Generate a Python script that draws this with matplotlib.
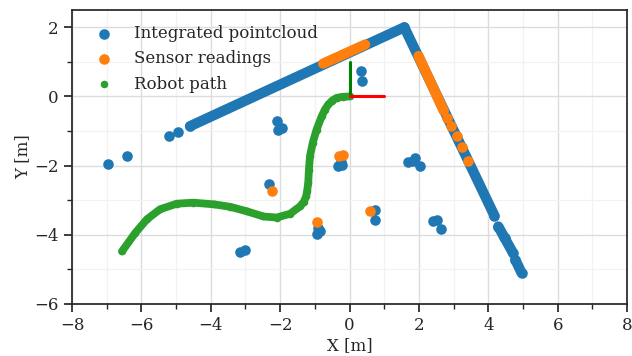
import numpy as np
import matplotlib
matplotlib.use("Agg")
import matplotlib.pyplot as plt
import seaborn as sns
from matplotlib.ticker import MultipleLocator

sns.set_style("ticks")
plt.rcParams['font.family'] = ['DejaVu Serif']
plt.rcParams['font.size'] = 12

# ---------------- data ----------------
# integrated pointcloud: wall segments (dense scans) and isolated points
wall_a_x = [-4.60, 1.58, 4.18]
wall_a_y = [-0.86, 2.00, -3.45]
wall_b_x = [4.29, 4.45]
wall_b_y = [-3.76, -4.05]
wall_c_x = [4.48, 4.71]
wall_c_y = [-4.10, -4.52]
wall_d_x = [4.78, 4.96]
wall_d_y = [-4.72, -5.10]

cloud_x = [-6.95, -6.42, -5.19, -4.93, 0.32, 0.37, -2.10, -1.95, -2.05,
           -0.22, -0.32, -0.25, 1.69, 1.89, 2.03, 1.84, -2.31, -0.90, -0.95,
           -0.85, 0.73, 0.73, -3.16, -3.01, 2.42, 2.51, 2.64]
cloud_y = [-1.96, -1.71, -1.13, -1.03, 0.73, 0.44, -0.72, -0.91, -0.96,
           -1.97, -2.02, -1.90, -1.90, -1.78, -2.02, -1.87, -2.53, -3.81, -3.98,
           -3.90, -3.28, -3.57, -4.51, -4.45, -3.61, -3.57, -3.83]

# sensor readings: scan segments and isolated points
sensor_a_x = [-0.76, 0.45]
sensor_a_y = [0.95, 1.50]
sensor_b_x = [1.99, 2.72]
sensor_b_y = [1.17, -0.42]
sensor_x = [2.82, 2.93, 3.09, 3.25, 3.42, -0.30, -0.18, -2.24, -0.95, 0.59]
sensor_y = [-0.62, -0.84, -1.13, -1.46, -1.86, -1.71, -1.69, -2.72, -3.64, -3.32]

# robot path
path_x = [0.00, -0.20, -0.37, -0.50, -0.61, -0.71, -0.80, -0.95, -1.06, -1.14, -1.17, -1.19,
          -1.22, -1.25, -1.32, -1.43, -1.71, -2.10, -2.48, -2.96, -3.44, -3.90, -4.50,
          -4.98, -5.46, -5.84, -6.18, -6.56]
path_y = [0.00, -0.01, -0.04, -0.12, -0.23, -0.38, -0.57, -0.96, -1.34, -1.73, -2.12, -2.50,
          -2.72, -2.89, -3.05, -3.18, -3.39, -3.50, -3.47, -3.32, -3.19, -3.12, -3.07,
          -3.10, -3.26, -3.55, -3.95, -4.48]

# robot pose axes
pose_x_axis = ([0.0, 1.0], [0.0, 0.0])
pose_y_axis = ([0.0, 0.0], [0.0, 1.0])

blue = '#1f77b4'
orange = '#ff7f0e'
green = '#2ca02c'

# ---------------- figure ----------------
fig = plt.figure(figsize=(6.32, 3.56), dpi=100)
ax = fig.add_axes([72/632, 1-304/356, 555/632, 294/356])

lw_cloud = 7.4
s_cloud = 58
for wx, wy in [(wall_a_x, wall_a_y), (wall_b_x, wall_b_y), (wall_c_x, wall_c_y), (wall_d_x, wall_d_y)]:
    ax.plot(wx, wy, color=blue, lw=lw_cloud, solid_capstyle='round', solid_joinstyle='round', zorder=2)
    ax.scatter(wx, wy, s=s_cloud, color=blue, linewidths=0, zorder=2)
ax.scatter(cloud_x, cloud_y, s=s_cloud, color=blue, linewidths=0, zorder=2,
           label='Integrated pointcloud')

for sx, sy in [(sensor_a_x, sensor_a_y), (sensor_b_x, sensor_b_y)]:
    ax.plot(sx, sy, color=orange, lw=lw_cloud, solid_capstyle='round', zorder=3)
ax.scatter(sensor_x, sensor_y, s=s_cloud, color=orange, linewidths=0, zorder=3,
           label='Sensor readings')

ax.plot(path_x, path_y, color=green, lw=5.6, solid_capstyle='round', solid_joinstyle='round', zorder=4)
ax.scatter(path_x, path_y, s=30, color=green, linewidths=0, zorder=4, label='Robot path')

ax.plot(*pose_y_axis, color='g', lw=2.2, zorder=5)
ax.plot(*pose_x_axis, color='r', lw=2.2, zorder=5)

ax.set_xlim(-8, 8)
ax.set_ylim(-6, 2.5)
ax.xaxis.set_major_locator(MultipleLocator(2))
ax.xaxis.set_minor_locator(MultipleLocator(1))
ax.yaxis.set_major_locator(MultipleLocator(2))
ax.yaxis.set_minor_locator(MultipleLocator(1))
ax.grid(which='major', color='#dcdcdc', lw=1.0, zorder=0)
ax.grid(which='minor', color='#f2f2f2', lw=0.9, zorder=0)
ax.set_axisbelow(True)
for sp in ax.spines.values():
    sp.set_color('#262626')
    sp.set_linewidth(1.25)
ax.tick_params(which='major', length=6, width=1.25, colors='#262626', labelsize=12)
ax.tick_params(which='minor', length=3.5, width=1.0, colors='#262626')
ax.set_xlabel('X [m]', color='#262626', labelpad=2)
ax.set_ylabel('Y [m]', color='#262626', labelpad=2)

leg = ax.legend(loc='upper left', frameon=False, fontsize=12)
for t in leg.get_texts():
    t.set_color('#262626')

fig.savefig('out.png', dpi=100)
